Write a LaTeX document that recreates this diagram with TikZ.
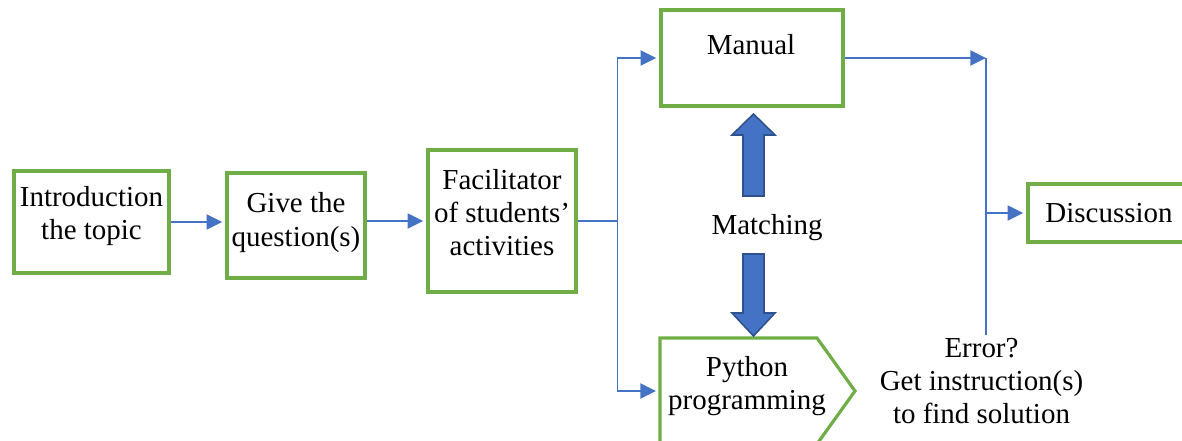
\documentclass[tikz,border=0pt]{standalone}
\usepackage{fontspec}
\setmainfont{Liberation Serif}
\usetikzlibrary{positioning, arrows.meta}
\usepackage{xcolor}

\definecolor{boxgreen}{HTML}{70AD47}
\definecolor{flowblue}{HTML}{4472C4}
\definecolor{darkblue}{HTML}{2F528F}

\tikzset{
	box/.style={draw=boxgreen, line width=0.08cm, fill=white, align=center, inner sep=0pt},
	pybox/.style={draw=none, outer sep=0pt, inner sep=0pt},
	plain/.style={align=center, inner sep=0pt},
	flowline/.style={draw=flowblue, line width=0.035cm},
	flow/.style={flowline, -{Triangle[length=0.39cm, width=0.38cm]}, shorten >=0.08cm},
	bigarrow/.style={fill=flowblue, draw=darkblue, line width=0.04cm, line join=miter}
}

\begin{document}
\begin{tikzpicture}[font=\fontsize{20.6}{23.6}\selectfont]
			\useasboundingbox (0,0) rectangle (29.55,11.025);
			% Boxes (the rules lift the text a little)
			\node[box, minimum width=3.875cm, minimum height=2.55cm] (intro) at (2.2875,5.475) {Introduction\\the topic\rule[-0.44cm]{0pt}{0pt}};
			\node[box, minimum width=3.45cm, minimum height=2.625cm] (give) at (7.4,5.3875) {Give the\\question(s)\rule[-0.3cm]{0pt}{0pt}};
			\node[box, minimum width=3.7cm, minimum height=3.55cm] (facil) at (12.55,5.5) {Facilitator\\of students'\\activities\rule[-0.42cm]{0pt}{0pt}};
			\node[box, minimum width=4.55cm, minimum height=2.4cm] (manual) at (18.8,9.575) {};
			\node[plain] (manualtext) at (18.775,9.9) {Manual};
			\node[box, minimum width=4.05cm, minimum height=1.45cm] (discussion) at (27.725,5.7) {Discussion};
			% Python programming (pointed box)
			\node[pybox, minimum width=3.925cm, minimum height=2.65cm] (python) at (18.4625,1.25) {};
			\draw[boxgreen, line width=0.08cm] (python.north west) -- (python.north east) -- ([xshift=0.95cm]python.east) -- (python.south east) -- (python.south west) -- cycle;
			\node[plain] (pytext) at (18.675,1.375) {Python\\programming};
			% Matching arrows
			\filldraw[bigarrow] (18.8375,8.175) -- (19.375,7.65) -- (19.1,7.65) -- (19.1,6.125) -- (18.575,6.125) -- (18.575,7.65) -- (18.3,7.65) -- cycle;
			\filldraw[bigarrow] (18.8375,2.625) -- (19.375,3.2) -- (19.1,3.2) -- (19.1,4.675) -- (18.575,4.675) -- (18.575,3.2) -- (18.3,3.2) -- cycle;
			\node[plain] (matching) at (19.175,5.325) {Matching};
			% Error note
			\node[plain, anchor=north, inner sep=0.075cm] (error) at (24.5375,2.65) {Error?\\Get instruction(s)\\to find solution};
			% Connectors
			\coordinate (split) at (15.44,5.5);
			\coordinate (mjoin) at (24.65,9.575);
			\draw[flow] (intro.east) -- (intro.east -| give.west);
			\draw[flow] (facil.west -| give.east) -- (facil.west);
			\draw[flowline] (facil.east) -- (split);
			\draw[flow] (split) |- (manual.west);
			\draw[flow, shorten >=0.1cm] (split) |- (python.west);
			\draw[flow, shorten >=0pt] (manual.east) -- (mjoin);
			\draw[flowline] (mjoin) -- (mjoin |- error.north);
			\draw[flow] (mjoin |- discussion.west) -- (discussion.west);
		\end{tikzpicture}
\end{document}
